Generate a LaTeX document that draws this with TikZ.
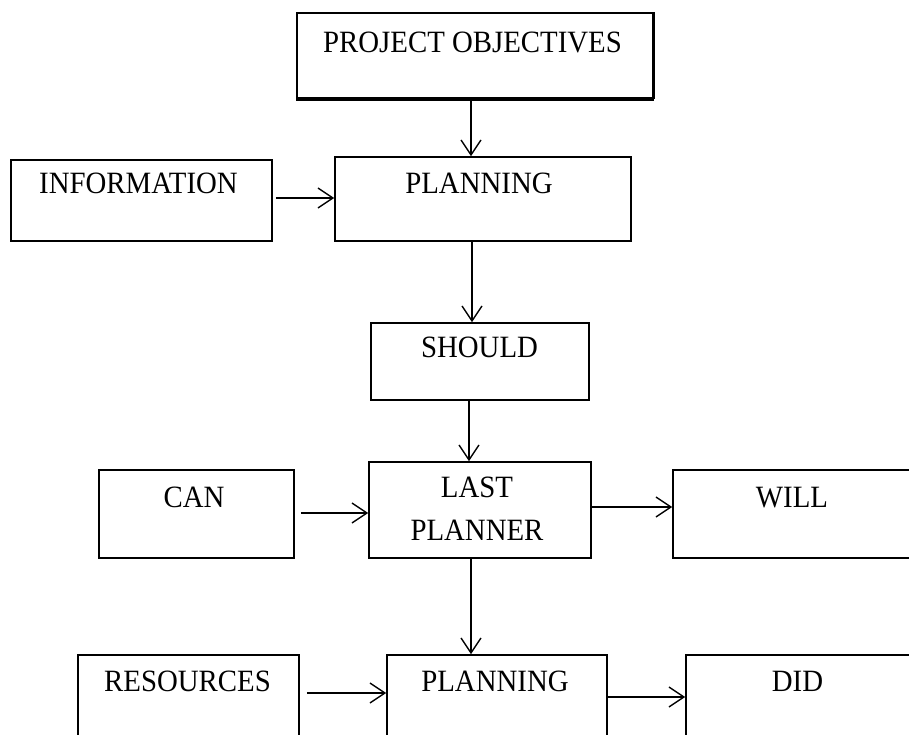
\documentclass[tikz,border=0pt]{standalone}
\usepackage{fontspec}
\setmainfont{Liberation Serif}[FakeStretch=0.93]
\usetikzlibrary{arrows.meta}

\tikzset{
  box/.style={draw=black, line width=1.6pt, rectangle, inner sep=0pt, fill=white},
  txt/.style={inner sep=0pt, anchor=north, align=center, text=black,
              font=\fontsize{31}{43}\selectfont},
  arr/.style={draw=black, line width=1.4pt,
              -{Straight Barb[length=15pt,width=20pt,line width=1.4pt]}}
}

\begin{document}
\begin{tikzpicture}[x=1pt, y=-1pt]
  \useasboundingbox (0,0) rectangle (909,734);
  \fill[white] (0,0) rectangle (909,734);
  \clip (0,0) rectangle (909,734);

  % boxes (the right and bottom ones run off the page)
  \node[box, minimum width=356pt, minimum height=85pt] (proj)   at (475,55.5) {};
  \node[box, minimum width=261pt, minimum height=81pt] (info)   at (141.5,200.5) {};
  \node[box, minimum width=296pt, minimum height=84pt] (plan1)  at (483,199) {};
  \node[box, minimum width=218pt, minimum height=77pt] (should) at (480,361.5) {};
  \node[box, minimum width=195pt, minimum height=88pt] (can)    at (196.5,514) {};
  \node[box, minimum width=222pt, minimum height=96pt] (last)   at (480,510) {};
  \node[box, minimum width=242pt, minimum height=88pt] (will)   at (794,514) {};
  \node[box, minimum width=221pt, minimum height=90pt] (res)    at (188.5,700) {};
  \node[box, minimum width=220pt, minimum height=90pt] (plan2)  at (497,700) {};
  \node[box, minimum width=229pt, minimum height=90pt] (did)    at (800.5,700) {};

  % heavier lower edge of the objectives box
  \draw[line width=3pt] ([yshift=-1pt]proj.south west) -- ([yshift=-1pt]proj.south east);
  \draw[line width=2.2pt] (proj.north east) -- (proj.south east);

  % labels
  \node[txt] (projT)   at (472.5,32)  {PROJECT OBJECTIVES};
  \node[txt] (infoT)   at (138.5,173) {INFORMATION};
  \node[txt] (plan1T)  at (479,173)   {PLANNING};
  \node[txt] (shouldT) at (479.5,337) {SHOULD};
  \node[txt] (canT)    at (194,487)   {CAN};
  \node[txt] (lastT)   at (477,477)   {LAST\\PLANNER};
  \node[txt] (willT)   at (792,487)   {WILL};
  \node[txt] (resT)    at (187.5,671) {RESOURCES};
  \node[txt] (plan2T)  at (495,671)   {PLANNING};
  \node[txt] (didT)    at (797.5,671) {DID};

  % connector lines
  \coordinate (vA) at (471,0);
  \coordinate (vB) at (472,0);
  \coordinate (vC) at (469,0);
  \coordinate (vD) at (471,0);
  \coordinate (hA) at (0,198);
  \coordinate (hB) at (0,513);
  \coordinate (hC) at (0,507);
  \coordinate (hD) at (0,693);
  \coordinate (hE) at (0,697);

  \draw[arr] (proj.south -| vA)   -- (plan1.north -| vA);
  \draw[arr] ([xshift=3pt]info.east |- hA) -- (plan1.west |- hA);
  \draw[arr] (plan1.south -| vB)  -- (should.north -| vB);
  \draw[arr] (should.south -| vC) -- (last.north -| vC);
  \draw[arr] ([xshift=6pt]can.east |- hB) -- (last.west |- hB);
  \draw[arr] (last.east |- hC)    -- (will.west |- hC);
  \draw[arr] (last.south -| vD)   -- (plan2.north -| vD);
  \draw[arr] ([xshift=7pt]res.east |- hD) -- (plan2.west |- hD);
  \draw[arr] (plan2.east |- hE)   -- (did.west |- hE);
\end{tikzpicture}
\end{document}
